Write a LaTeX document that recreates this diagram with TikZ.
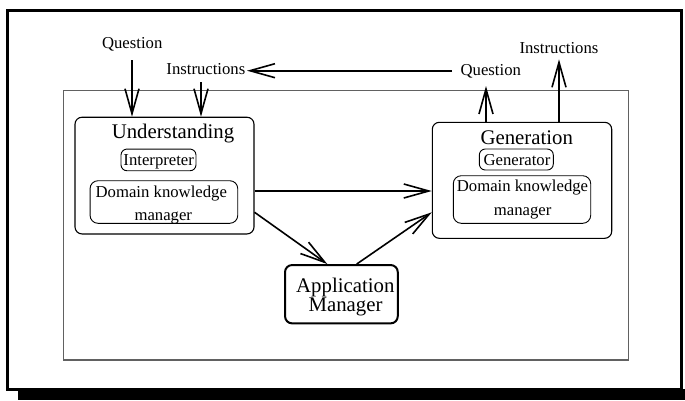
\documentclass[tikz,border=0pt]{standalone}
\usepackage{fontspec}
\setmainfont{Liberation Serif}
\usetikzlibrary{arrows.meta}
\begin{document}
\begin{tikzpicture}[x=1pt,y=-1pt,
  txts/.style={inner sep=0pt,anchor=base,font=\fontsize{16.7}{20}\selectfont},
  txtl/.style={inner sep=0pt,anchor=base,font=\fontsize{20.8}{24}\selectfont},
  bigbox/.style={draw=black,rounded corners=7pt,line width=1.1pt,inner sep=0pt},
  smallbox/.style={draw=black,rounded corners=6pt,line width=0.9pt,inner sep=0pt},
  appbox/.style={draw=black,rounded corners=7pt,line width=2pt,inner sep=0pt},
  sysbox/.style={draw=black!62,line width=1.3pt,inner sep=0pt},
  arr/.style={line width=1.6pt,-{Straight Barb[length=25pt,width=14pt]}}]
\useasboundingbox (0,0) rectangle (685,400);
% outer frame with shadow
\draw[line width=2.7pt] (7.5,10.3) rectangle (681.5,389.5);
\fill[black] (17.5,389) rectangle (685,400);
% system frame
\node[sysbox,minimum width=564.6pt,minimum height=269.3pt] (sys) at (346,225.35) {};
% boxes
\node[bigbox,minimum width=179pt,minimum height=116.7pt] (und) at (164.5,175.6) {};
\node[bigbox,minimum width=179.4pt,minimum height=116pt] (gen) at (522,180.3) {};
\node[smallbox,minimum width=75pt,minimum height=21.7pt] (interp) at (158.5,159.9) {};
\node[smallbox,minimum width=74pt,minimum height=21pt] (genr) at (516.3,159.5) {};
\node[smallbox,rounded corners=8pt,minimum width=147.7pt,minimum height=42.6pt] (dk1) at (163.9,202) {};
\node[smallbox,rounded corners=8pt,minimum width=137.4pt,minimum height=47.6pt] (dk2) at (522,199.5) {};
\node[appbox,minimum width=112.7pt,minimum height=58.3pt] (app) at (341.4,294.2) {};
% texts
\node[txts] (q1) at (132.2,48.3) {Question};
\node[txts] (i1) at (205.9,74.3) {Instructions};
\node[txts] (q2) at (490.8,75) {Question};
\node[txts] (i2) at (559,53.3) {Instructions};
\node[txtl] (undt) at (173,138.3) {Understanding};
\node[txtl] (gent) at (526.7,144.3) {Generation};
\node[txts] (interpt) at (158.7,165) {Interpreter};
\node[txts] (genrt) at (517,165) {Generator};
\node[txts] (dk1a) at (161.3,197.3) {Domain knowledge};
\node[txts] (dk1b) at (163.3,220) {manager};
\node[txts] (dk2a) at (522.5,191.7) {Domain knowledge};
\node[txts] (dk2b) at (522.7,215.7) {manager};
\node[txtl] (appa) at (345.3,292.3) {Application};
\node[txtl] (appb) at (345.5,311.7) {Manager};
% connector end points
\coordinate (c1) at (132,60);
\coordinate (c2) at (201,82);
\coordinate (c3) at (452,70.7);
\coordinate (t3) at (247,70.7);
\coordinate (c4) at (486,86);
\coordinate (c5) at (559,59.3);
\coordinate (h1) at (343,191);
\coordinate (d1) at (300,212.3);
\coordinate (d1e) at (327.3,0);
\coordinate (d2) at (356.7,0);
% connectors
\draw[arr] (c1) -- (c1 |- und.north);
\draw[arr] (c2) -- (c2 |- und.north);
\draw[arr] (c3) -- (t3);
\draw[arr] (c4 |- gen.north) -- (c4);
\draw[arr] (c5 |- gen.north) -- (c5);
\draw[arr] (und.east |- h1) -- (gen.west |- h1);
\draw[arr] (und.east |- d1) -- (d1e |- app.north);
\draw[arr] (d2 |- app.north) -- (gen.west |- d1);
\end{tikzpicture}
\end{document}
